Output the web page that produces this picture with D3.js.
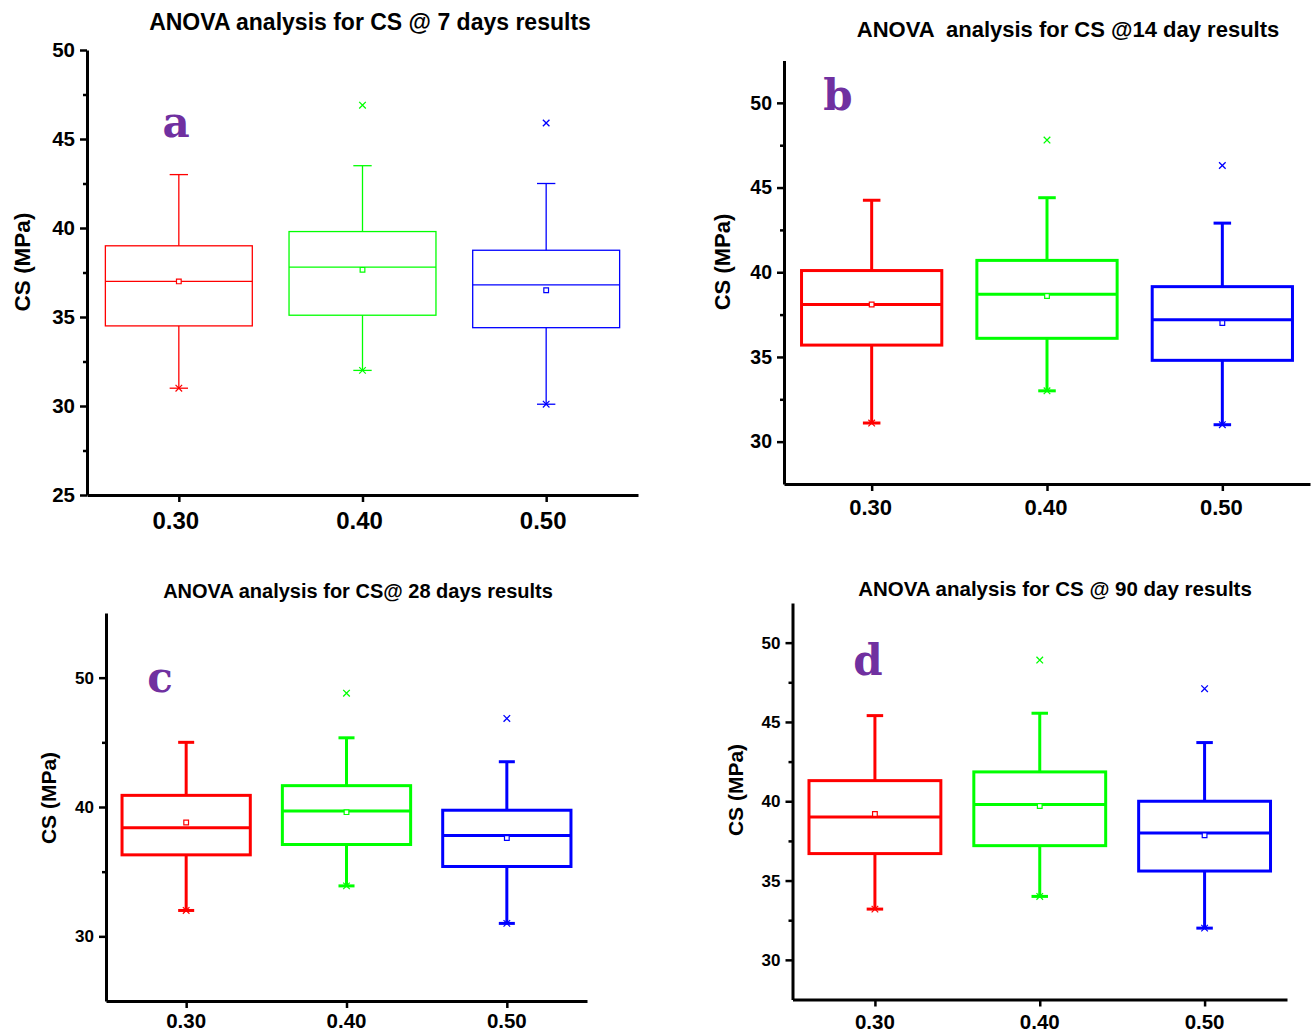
<!DOCTYPE html>
<html>
<head>
<meta charset="utf-8">
<script src="https://cdn.jsdelivr.net/npm/d3@7"></script>
<style>
  body { margin: 0; background: #fff; }
  svg { display: block; }
  text { font-family: "Liberation Sans", Arial, sans-serif; font-weight: bold; }
</style>
</head>
<body>
<svg id="chart" width="1313" height="1034"></svg>
<script>

// water / binder ratios on the x axis
let categories = [0.30, 0.40, 0.50];
let categoryLabels = ["0.30", "0.40", "0.50"];
let boxColors = ["#ff0000", "#00ff00", "#0000ff"];

let panelLetters = ["a", "b", "c", "d"];
let panelTitles = [
    "ANOVA analysis for CS @ 7 days results",
    "ANOVA  analysis for CS @14 day results",
    "ANOVA analysis for CS@ 28 days results",
    "ANOVA analysis for CS @ 90 day results"
];

// box statistics per panel (7, 14, 28, 90 days), one value per category
let whiskerLow = [[31.0, 32.0, 30.1], [31.1, 33.0, 31.0], [32.0, 33.9, 31.0], [33.2, 34.0, 32.0]];
let q1 = [[34.5, 35.1, 34.4], [35.7, 36.1, 34.8], [36.3, 37.1, 35.4], [36.7, 37.2, 35.6]];
let medians = [[37.0, 37.8, 36.8], [38.1, 38.7, 37.2], [38.4, 39.7, 37.8], [39.0, 39.8, 38.0]];
let means = [[37.0, 37.65, 36.5], [38.1, 38.6, 37.0], [38.8, 39.6, 37.6], [39.2, 39.7, 37.85]];
let q3 = [[39.0, 39.8, 38.75], [40.1, 40.7, 39.15], [40.9, 41.65, 39.75], [41.3, 41.85, 40.0]];
let whiskerHigh = [[43.0, 43.5, 42.5], [44.25, 44.4, 42.9], [45.0, 45.35, 43.5], [45.4, 45.55, 43.7]];
// max points above the whiskers (red has none)
let outliers = [[null, 46.9, 45.9], [null, 47.8, 46.3], [null, 48.8, 46.85], [null, 48.9, 47.1]];

// y axis ticks per panel
let yDomains = [[25, 50], [27.5, 52.5], [25, 55], [27.5, 52.5]];
let yMajorTicks = [[25, 30, 35, 40, 45, 50], [30, 35, 40, 45, 50], [30, 40, 50], [30, 35, 40, 45, 50]];
let yMinorTicks = [[27.5, 32.5, 37.5, 42.5, 47.5], [32.5, 37.5, 42.5, 47.5], [35, 45], [32.5, 37.5, 42.5, 47.5]];

// layout of the four panels
let layout = [
    {x0: 87, x1: 638, yTop: 50, yBot: 495, lw: 1.3, axisW: 3, tickFs: 20.5, xFs: 24, xLabY: 529, xLabDx: -3,
     titleX: 370, titleY: 30, titleFs: 23, yTitleX: 22, yTitleY: 262, yTitleFs: 22.5, letterX: 176, letterY: 137},
    {x0: 784, x1: 1310, yTop: 60.5, yBot: 484, lw: 3, axisW: 3, tickFs: 19.5, xFs: 22, xLabY: 515, xLabDx: -1,
     titleX: 1068, titleY: 37, titleFs: 22, yTitleX: 722, yTitleY: 262, yTitleFs: 22, letterX: 838, letterY: 110},
    {x0: 106, x1: 587, yTop: 613, yBot: 1001, lw: 3, axisW: 3, tickFs: 17, xFs: 20.5, xLabY: 1028, xLabDx: 0,
     titleX: 358, titleY: 598, titleFs: 20, yTitleX: 48, yTitleY: 798, yTitleFs: 21, letterX: 160, letterY: 692},
    {x0: 792.5, x1: 1287, yTop: 603, yBot: 999.5, lw: 3, axisW: 3, tickFs: 17, xFs: 20.5, xLabY: 1029, xLabDx: 0,
     titleX: 1055, titleY: 596, titleFs: 20.5, yTitleX: 735, yTitleY: 790, yTitleFs: 21, letterX: 868, letterY: 675}
];

let svg = d3.select("#chart");

function draw_panel(p) {
    let L = layout[p];
    let g = svg.append("g");

    let x = d3.scaleLinear().domain([0.25, 0.55]).range([L.x0, L.x1]);
    let y = d3.scaleLinear().domain(yDomains[p]).range([L.yBot, L.yTop]);

    // minor ticks
    g.append("g")
        .attr("transform", "translate(" + L.x0 + ",0)")
        .call(d3.axisLeft(y).tickValues(yMinorTicks[p]).tickSize(4).tickFormat(""))
        .call(a => a.select(".domain").remove())
        .selectAll("line").attr("stroke-width", 2.5);

    // y axis
    let yAx = g.append("g")
        .attr("transform", "translate(" + L.x0 + ",0)")
        .call(d3.axisLeft(y).tickValues(yMajorTicks[p]).tickSize(7).tickSizeOuter(0).tickPadding(5));
    yAx.select(".domain").attr("stroke-width", L.axisW);
    yAx.selectAll("line").attr("stroke-width", 2.5);
    yAx.selectAll("text").attr("font-size", L.tickFs).attr("font-family", "Liberation Sans, Arial").attr("font-weight", "bold");

    // x axis
    let xAx = g.append("g")
        .attr("transform", "translate(0," + L.yBot + ")")
        .call(d3.axisBottom(x).tickValues(categories).tickSize(7).tickSizeOuter(0).tickFormat(""));
    xAx.select(".domain").attr("stroke-width", L.axisW);
    xAx.selectAll("line").attr("stroke-width", 2.5);

    g.selectAll(".xlab")
        .data(categories)
        .enter()
        .append("text")
        .attr("x", d => x(d) + L.xLabDx)
        .attr("y", L.xLabY)
        .attr("text-anchor", "middle")
        .attr("font-size", L.xFs)
        .text((d, i) => categoryLabels[i]);

    // boxes
    categories.forEach(function(c, i) {
        let col = boxColors[i];
        let left = x(c - 0.04), right = x(c + 0.04);
        let capL = x(c - 0.005), capR = x(c + 0.005);
        let cx = x(c);
        let bg = g.append("g").attr("stroke", col).attr("fill", "none").attr("stroke-width", L.lw);

        // whiskers
        bg.append("line").attr("x1", cx).attr("x2", cx).attr("y1", y(whiskerHigh[p][i])).attr("y2", y(q3[p][i]));
        bg.append("line").attr("x1", cx).attr("x2", cx).attr("y1", y(whiskerLow[p][i])).attr("y2", y(q1[p][i]));
        bg.append("line").attr("x1", capL).attr("x2", capR).attr("y1", y(whiskerHigh[p][i])).attr("y2", y(whiskerHigh[p][i]));
        bg.append("line").attr("x1", capL).attr("x2", capR).attr("y1", y(whiskerLow[p][i])).attr("y2", y(whiskerLow[p][i]));

        // box and median
        bg.append("rect")
            .attr("x", left).attr("y", y(q3[p][i]))
            .attr("width", right - left).attr("height", y(q1[p][i]) - y(q3[p][i]));
        bg.append("line").attr("x1", left).attr("x2", right).attr("y1", y(medians[p][i])).attr("y2", y(medians[p][i]));

        // mean
        bg.append("path")
            .attr("d", d3.symbol(d3.symbolSquare, 22)())
            .attr("transform", "translate(" + cx + "," + y(means[p][i]) + ")")
            .attr("stroke-width", 1.2).attr("fill", "#fff");

        // min marker
        bg.append("path")
            .attr("d", d3.symbol(d3.symbolX, 30)())
            .attr("transform", "translate(" + cx + "," + y(whiskerLow[p][i]) + ")")
            .attr("stroke-width", 1.2);

        if (outliers[p][i] != null) {
            bg.append("path")
                .attr("d", d3.symbol(d3.symbolX, 30)())
                .attr("transform", "translate(" + cx + "," + y(outliers[p][i]) + ")")
                .attr("stroke-width", 1.3);
        }
    });

    // titles
    g.append("text")
        .attr("x", L.titleX).attr("y", L.titleY)
        .attr("text-anchor", "middle")
        .attr("font-size", L.titleFs)
        .style("white-space", "pre")
        .text(panelTitles[p]);

    g.append("text")
        .attr("transform", "translate(" + L.yTitleX + "," + L.yTitleY + ") rotate(-90)")
        .attr("text-anchor", "middle")
        .attr("dominant-baseline", "central")
        .attr("font-size", L.yTitleFs)
        .text("CS (MPa)");

    g.append("text")
        .attr("x", L.letterX).attr("y", L.letterY)
        .attr("text-anchor", "middle")
        .attr("font-size", 42)
        .attr("fill", "#7030a0")
        .style("font-family", "'DejaVu Serif', serif")
        .text(panelLetters[p]);
}

for (let p = 0; p < 4; ++p) {
    draw_panel(p);
}
</script>
</body>
</html>
